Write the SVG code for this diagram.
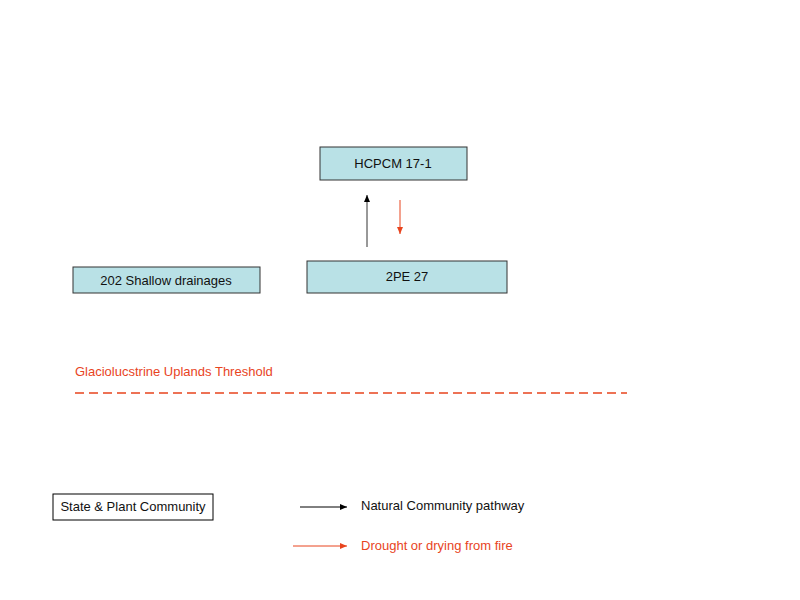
<svg xmlns="http://www.w3.org/2000/svg" width="800" height="600" viewBox="0 0 800 600">
<style>
.n{fill:#b9e1e6;stroke:#333;stroke-width:1}
.t{font-family:"Liberation Sans",Arial,sans-serif;font-size:13px;fill:#111}
.r{fill:#e8441e}
</style>
<defs>
<marker id="ab" markerWidth="8" markerHeight="8" refX="7" refY="4" orient="auto" markerUnits="userSpaceOnUse"><path d="M0,1 L7,4 L0,7z" fill="#000"/></marker>
<marker id="ar" markerWidth="8" markerHeight="8" refX="7" refY="4" orient="auto" markerUnits="userSpaceOnUse"><path d="M0,1 L7,4 L0,7z" fill="#e8441e"/></marker>
</defs>
<rect width="800" height="600" fill="#fff"/>
<g id="hcpcm"><rect class="n" x="320" y="147" width="147" height="33"/><text class="t" x="393" y="168" text-anchor="middle">HCPCM 17-1</text></g>
<g id="pe27"><rect class="n" x="307" y="261" width="200" height="32"/><text class="t" x="407" y="281" text-anchor="middle">2PE 27</text></g>
<g id="shallow"><rect class="n" x="73" y="267" width="187" height="26"/><text class="t" x="166" y="285" text-anchor="middle">202 Shallow drainages</text></g>
<g id="connectors">
<line x1="367" y1="247" x2="367" y2="195" stroke="#333" marker-end="url(#ab)"/>
<line x1="400" y1="200" x2="400" y2="234" stroke="#e8441e" marker-end="url(#ar)"/>
</g>
<text class="t r" x="75" y="376">Glaciolucstrine Uplands Threshold</text>
<line x1="75" y1="393" x2="627" y2="393" stroke="#e8441e" stroke-width="1.5" stroke-dasharray="9,5"/>
<g id="legend">
<rect x="53" y="494" width="160" height="26" fill="#fff" stroke="#000"/>
<text class="t" x="133" y="511" text-anchor="middle">State &amp; Plant Community</text>
<line x1="300" y1="507" x2="347" y2="507" stroke="#000" marker-end="url(#ab)"/>
<text class="t" x="361" y="510">Natural Community pathway</text>
<line x1="293" y1="546" x2="347" y2="546" stroke="#e8441e" marker-end="url(#ar)"/>
<text class="t r" x="361" y="550">Drought or drying from fire</text>
</g>
</svg>
